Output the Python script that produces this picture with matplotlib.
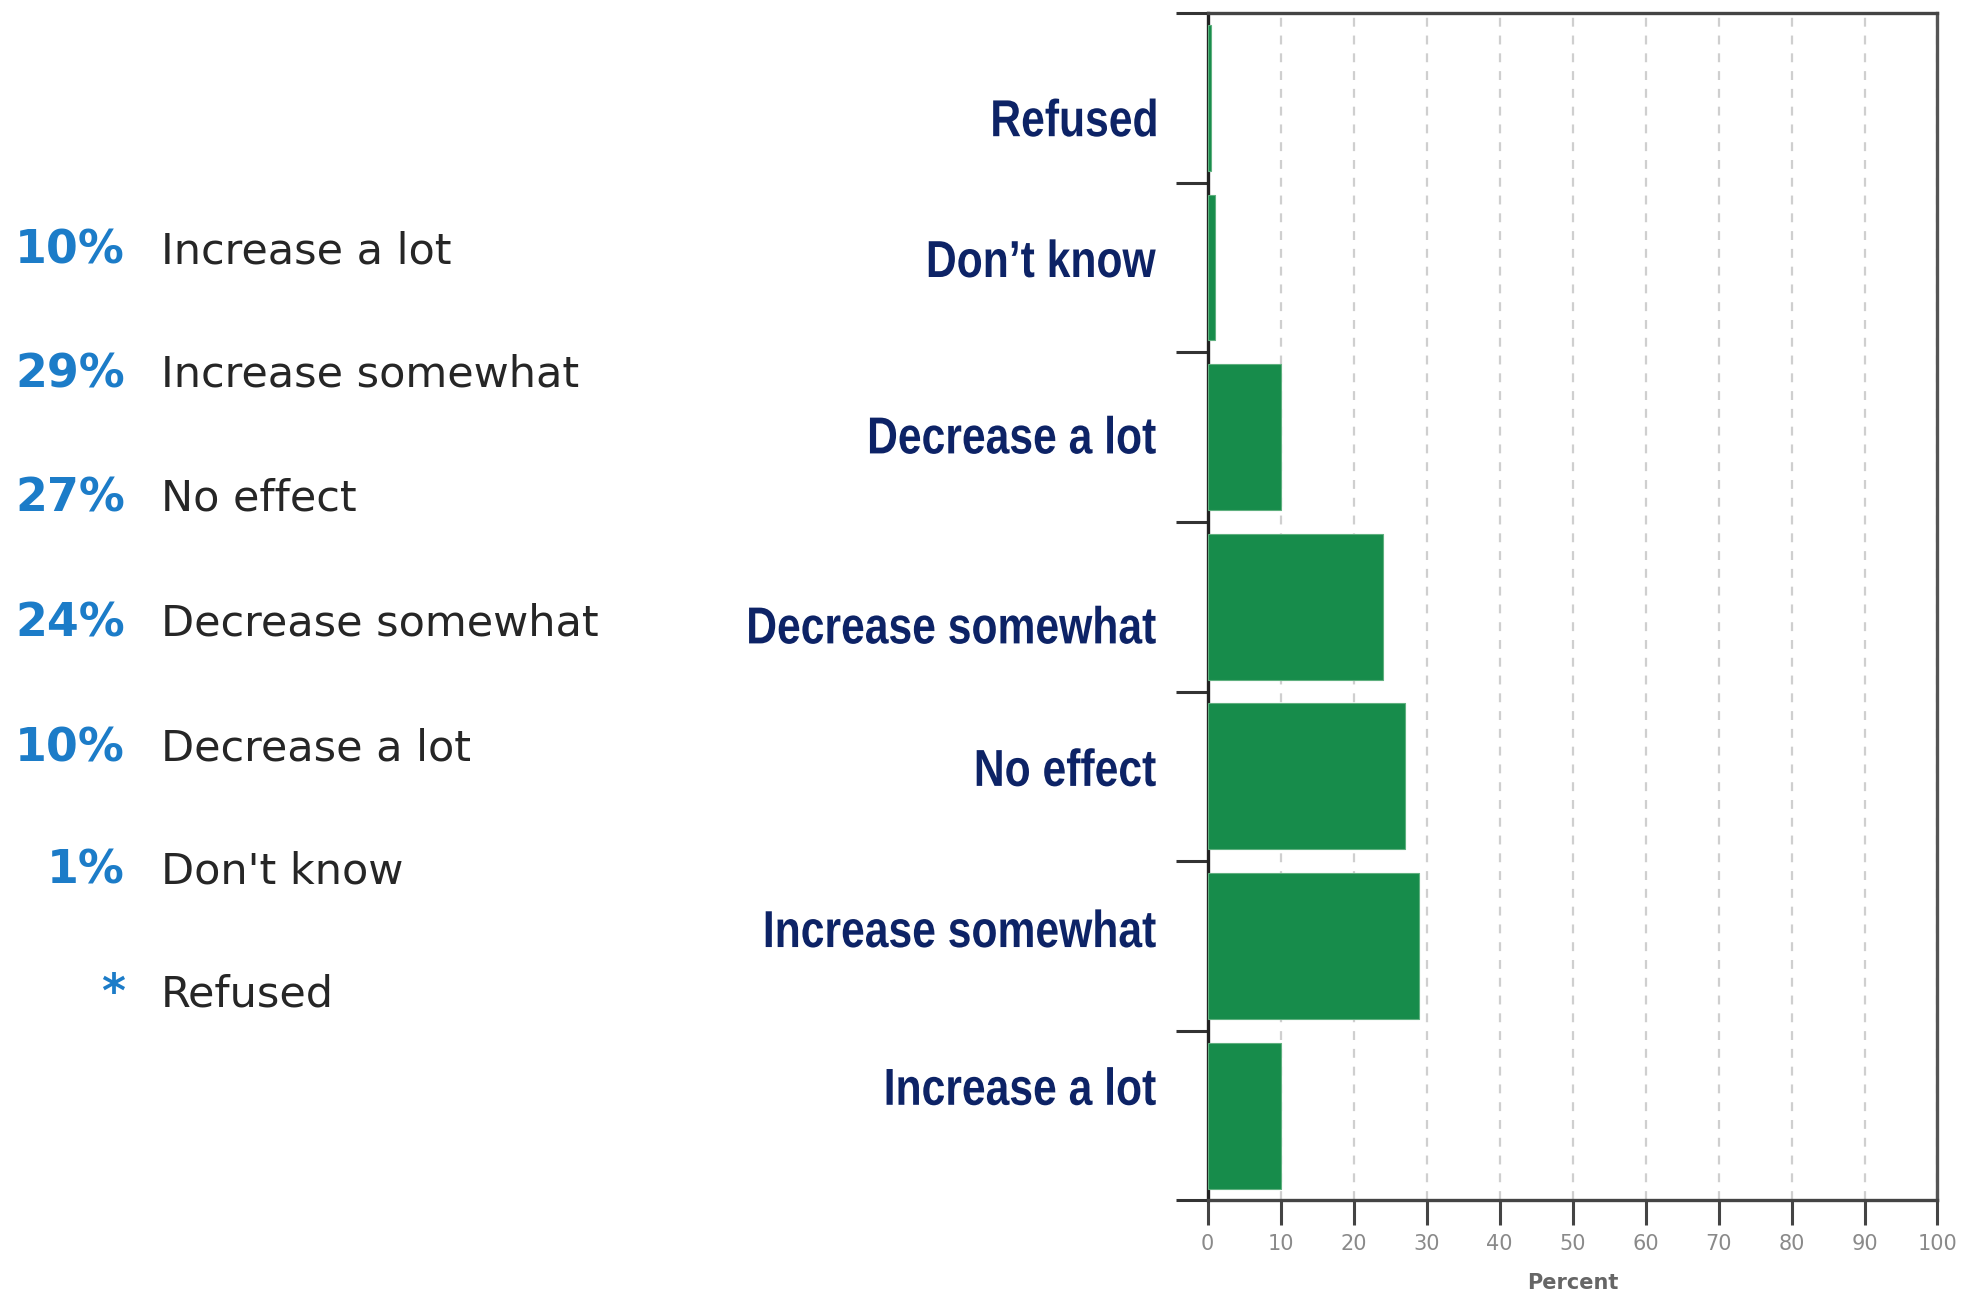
import matplotlib.pyplot as plt
import matplotlib.transforms as mtransforms
from matplotlib.font_manager import FontProperties
from matplotlib.patches import PathPatch
from matplotlib.textpath import TextPath
import numpy as np

# survey answers, bottom of chart first (same order as the list on the left)
categories = ['Increase a lot', 'Increase somewhat', 'No effect', 'Decrease somewhat',
              'Decrease a lot', "Don\u2019t know", 'Refused']
list_labels = ['Increase a lot', 'Increase somewhat', 'No effect', 'Decrease somewhat',
               'Decrease a lot', "Don't know", 'Refused']
percent = [10, 29, 27, 24, 10, 1, 0.5]
percent_text = ['10%', '29%', '27%', '24%', '10%', '1%', '*']

# small vertical nudges for the category names (in bar units)
label_shift = [0.15, 0.08, 0.03, -0.13, -0.01, 0.03, -0.14]

GREEN = '#178c4b'
NAVY = '#0d2366'
BLUE = '#1c7cc8'

fig = plt.figure(figsize=(19.67, 13.02), dpi=100)

# --- list of answers on the left ---
list_y = [0.807, 0.712, 0.617, 0.521, 0.425, 0.331, 0.236]
for txt, lab, y in zip(percent_text, list_labels, list_y):
    fig.text(0.0636, y, txt, ha='right', va='center', fontsize=33,
             fontweight='bold', color=BLUE, family='DejaVu Sans')
    fig.text(0.0818, y, lab, ha='left', va='center', fontsize=31,
             color='#262626', family='DejaVu Sans')

# --- bar chart ---
ax = fig.add_axes([0.614, 0.078, 0.371, 0.912])
y = np.arange(len(categories))
ax.barh(y, percent, height=0.86, color=GREEN, edgecolor='#5fb07f',
        linewidth=0.8, zorder=3)

ax.set_xlim(0, 100)
ax.set_ylim(-0.5, len(categories) - 0.5)
ax.set_xticks(np.arange(0, 101, 10))
ax.set_yticks(np.arange(-0.5, len(categories), 1.0))
ax.set_yticklabels([])
ax.xaxis.grid(True, linestyle=(0, (4, 4)), color='#cfcfcf', linewidth=1.6, zorder=0)

ax.tick_params(axis='y', direction='out', length=23, width=2.2, color='#333333')
ax.tick_params(axis='x', direction='out', length=18, width=2.2, color='#444444',
               labelsize=15, labelcolor='#8a8a8a', pad=6)
for side in ['left', 'bottom', 'top', 'right']:
    ax.spines[side].set_linewidth(2.4)
ax.spines['left'].set_color('#222222')
ax.spines['bottom'].set_color('#444444')
ax.spines['top'].set_color('#444444')
ax.spines['right'].set_color('#555555')

ax.set_xlabel('Percent', fontsize=15, fontweight='bold', color='#666666', labelpad=14)

# category names in a narrow bold face: Arial-like glyphs squeezed horizontally
bold = FontProperties(family='Liberation Sans', weight='bold')
em_px = 52
squeeze = 0.82
right_px = ax.transAxes.transform((0, 0))[0] - 52
for i, (cat, dy) in enumerate(zip(categories, label_shift)):
    tp = TextPath((0, 0), cat, size=em_px, prop=bold)
    ext = tp.get_extents()
    cap = 0.716 * em_px
    _, ymid = ax.transData.transform((0, i + dy))
    tr = (mtransforms.Affine2D()
          .scale(squeeze, 1.0)
          .translate(right_px - ext.x1 * squeeze, ymid - cap / 2 + 4))
    fig.add_artist(PathPatch(tp, transform=tr, facecolor=NAVY, edgecolor='none'))

fig.savefig('out.png', dpi=100)
